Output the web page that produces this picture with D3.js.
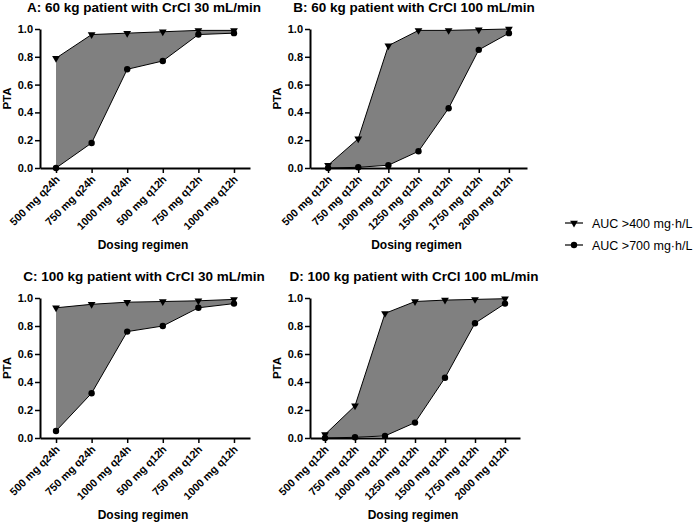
<!DOCTYPE html>
<html>
<head>
<meta charset="utf-8">
<script src="https://cdn.jsdelivr.net/npm/d3@7"></script>
<style>
  html, body { margin: 0; padding: 0; background: #fff; }
  svg { display: block; font-family: "Liberation Sans", Arial, Helvetica, sans-serif; }
</style>
</head>
<body>
<svg id="chart" width="700" height="522"></svg>
<script>
// ---- data ----
const regimensAC = ["500 mg q24h", "750 mg q24h", "1000 mg q24h", "500 mg q12h", "750 mg q12h", "1000 mg q12h"];
const regimensBD = ["500 mg q12h", "750 mg q12h", "1000 mg q12h", "1250 mg q12h", "1500 mg q12h", "1750 mg q12h", "2000 mg q12h"];

const auc400A = [0.79, 0.96, 0.97, 0.98, 0.99, 0.99];
const auc700A = [0.00, 0.18, 0.71, 0.77, 0.96, 0.97];

const auc400B = [0.02, 0.21, 0.88, 0.99, 0.99, 0.995, 1.00];
const auc700B = [0.00, 0.005, 0.02, 0.12, 0.43, 0.85, 0.97];

const auc400C = [0.93, 0.955, 0.97, 0.975, 0.98, 0.99];
const auc700C = [0.05, 0.32, 0.76, 0.80, 0.93, 0.96];

const auc400D = [0.025, 0.23, 0.89, 0.975, 0.985, 0.99, 0.995];
const auc700D = [0.00, 0.005, 0.015, 0.11, 0.43, 0.82, 0.96];

const yTicks = [0, 0.2, 0.4, 0.6, 0.8, 1.0];
const seriesNames = ["AUC >400 mg\u00B7h/L", "AUC >700 mg\u00B7h/L"];
const titles = [
  "A: 60 kg patient with CrCl 30 mL/min",
  "B: 60 kg patient with CrCl 100 mL/min",
  "C: 100 kg patient with CrCl 30 mL/min",
  "D: 100 kg patient with CrCl 100 mL/min"
];

// ---- layout ----
const svg = d3.select("#chart");
const panels = [
  { title: titles[0], cats: regimensAC, hi: auc400A, lo: auc700A, x0: 40, x1: 250, pad: 0.45, yTop: 29, yBot: 168, titleX: 144, titleY: 12 },
  { title: titles[1], cats: regimensBD, hi: auc400B, lo: auc700B, x0: 310, x1: 527, pad: 0.6, yTop: 29, yBot: 168, titleX: 414, titleY: 12 },
  { title: titles[2], cats: regimensAC, hi: auc400C, lo: auc700C, x0: 40, x1: 250, pad: 0.45, yTop: 298, yBot: 438, titleX: 144, titleY: 281 },
  { title: titles[3], cats: regimensBD, hi: auc400D, lo: auc700D, x0: 310, x1: 520, pad: 0.5, yTop: 298, yBot: 438, titleX: 414, titleY: 281 }
];

const triangle = d3.symbol().type(d3.symbolTriangle).size(26);

panels.forEach(p => {
  const g = svg.append("g");
  const x = d3.scalePoint().domain(p.cats).range([p.x0, p.x1]).padding(p.pad);
  const y = d3.scaleLinear().domain([0, 1]).range([p.yBot, p.yTop]);

  const rows = p.cats.map((c, i) => ({ c, hi: p.hi[i], lo: p.lo[i] }));

  // shaded band between the two series
  const area = d3.area().x(d => x(d.c)).y0(d => y(d.lo)).y1(d => y(d.hi));
  g.append("path").datum(rows).attr("d", area)
    .attr("fill", "#808080").attr("stroke", "none");

  const lineHi = d3.line().x(d => x(d.c)).y(d => y(d.hi));
  const lineLo = d3.line().x(d => x(d.c)).y(d => y(d.lo));
  g.append("path").datum(rows).attr("d", lineHi).attr("fill", "none").attr("stroke", "#000").attr("stroke-width", 1);
  g.append("path").datum(rows).attr("d", lineLo).attr("fill", "none").attr("stroke", "#000").attr("stroke-width", 1);

  // axes
  const yAxis = d3.axisLeft(y).tickValues(yTicks).tickFormat(d3.format(".1f")).tickSize(5).tickSizeOuter(0);
  const ya = g.append("g").attr("transform", `translate(${p.x0},0)`).call(yAxis);
  ya.select(".domain").attr("stroke-width", 2);
  ya.selectAll(".tick line").attr("stroke-width", 1.5);
  ya.selectAll(".tick text").attr("font-size", 11).attr("font-weight", "bold").attr("fill", "#000")
    .attr("font-family", "Liberation Sans, Arial, sans-serif").attr("x", -7);

  const xAxis = d3.axisBottom(x).tickSize(5).tickSizeOuter(0);
  const xa = g.append("g").attr("transform", `translate(0,${p.yBot})`).call(xAxis);
  xa.select(".domain").attr("stroke-width", 2);
  xa.selectAll(".tick line").attr("stroke-width", 1.5);
  xa.selectAll(".tick text")
    .attr("font-size", 10.8).attr("font-weight", "bold").attr("fill", "#000")
    .attr("font-family", "Liberation Sans, Arial, sans-serif")
    .attr("x", 0).attr("y", 0).attr("dy", null)
    .attr("transform", "translate(4,12) rotate(-45)")
    .style("text-anchor", "end");

  // markers
  g.selectAll(".tri").data(rows).enter().append("path")
    .attr("d", triangle)
    .attr("transform", d => `translate(${x(d.c)},${y(d.hi)}) rotate(180)`)
    .attr("fill", "#000");
  g.selectAll(".dot").data(rows).enter().append("circle")
    .attr("cx", d => x(d.c)).attr("cy", d => y(d.lo)).attr("r", 3.2)
    .attr("fill", "#000");

  // titles and labels
  g.append("text").attr("x", p.titleX).attr("y", p.titleY)
    .attr("text-anchor", "middle").attr("font-size", 13.5).attr("font-weight", "bold").text(p.title);
  g.append("text")
    .attr("transform", `translate(${p.x0 - 29},${(p.yTop + p.yBot) / 2}) rotate(-90)`)
    .attr("text-anchor", "middle").attr("font-size", 11.5).attr("font-weight", "bold").text("PTA");
  g.append("text").attr("x", (p.x0 + p.x1) / 2 - 2).attr("y", p.yBot + 81)
    .attr("text-anchor", "middle").attr("font-size", 12).attr("font-weight", "bold").text("Dosing regimen");
});

// legend
const legend = svg.append("g").attr("transform", "translate(565,223)");
seriesNames.forEach((name, i) => {
  const lg = legend.append("g").attr("transform", `translate(0,${i * 22})`);
  lg.append("line").attr("x1", 0).attr("x2", 18).attr("y1", 0).attr("y2", 0).attr("stroke", "#000").attr("stroke-width", 1.2);
  if (i === 0) {
    lg.append("path").attr("d", triangle).attr("transform", "translate(9,0) rotate(180)").attr("fill", "#000");
  } else {
    lg.append("circle").attr("cx", 9).attr("cy", 0).attr("r", 3.2).attr("fill", "#000");
  }
  lg.append("text").attr("x", 27).attr("y", 4.5).attr("font-size", 12.5).text(name);
});
</script>
</body>
</html>
